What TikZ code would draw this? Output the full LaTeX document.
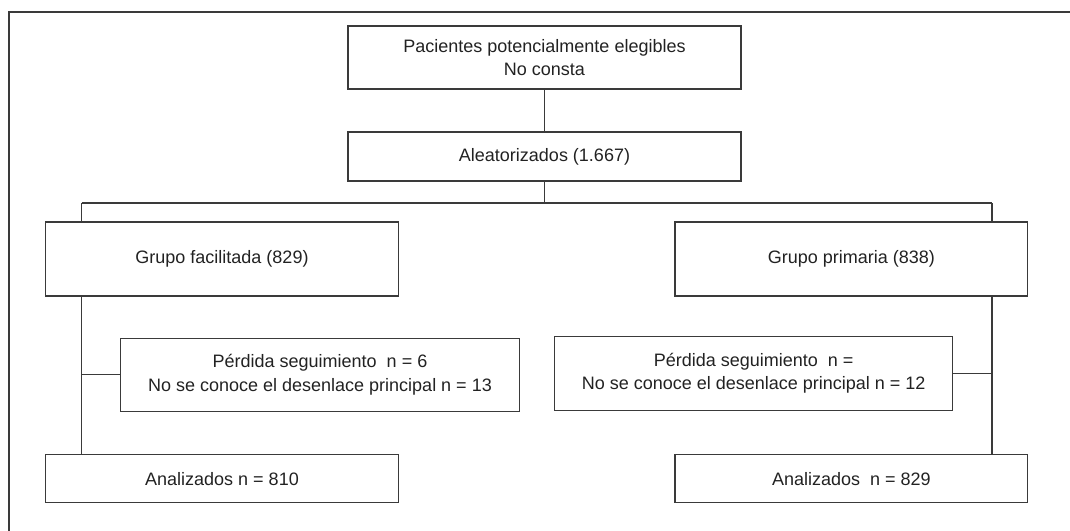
\documentclass[tikz,border=0pt]{standalone}
\usepackage{fontspec}
\setmainfont{Liberation Sans}
\definecolor{linegray}{HTML}{3A3A3A}
\definecolor{textgray}{HTML}{222222}
\begin{document}
\begin{tikzpicture}[x=0.75pt,y=-0.75pt,
  box/.style={draw=linegray,line width=0.9pt,align=center,inner sep=0pt,
    text=textgray,font=\fontsize{13.5}{17.5}\selectfont},
  conn/.style={draw=linegray,line width=0.9pt}]
\useasboundingbox (0,0) rectangle (1070,531);
\draw[conn] (1070,12) -- (9,12) -- (9,531);
\node[box,minimum width=294.75pt,minimum height=47.25pt] (elig) at (544.5,57.5) {Pacientes potencialmente elegibles\\No consta};
\node[box,minimum width=294.75pt,minimum height=36.75pt] (alea) at (544.5,156.5) {Aleatorizados (1.667)};
\node[box,minimum width=264.5pt,minimum height=55.5pt] (fac) at (222,259) {Grupo facilitada (829)};
\node[box,minimum width=264.5pt,minimum height=55.5pt] (pri) at (851.3,259) {Grupo primaria (838)};
\node[box,minimum width=298.7pt,minimum height=54.75pt] (perl) at (320,374.8) {P\'erdida seguimiento~ n = 6\\No se conoce el desenlace principal n = 13};
\node[box,minimum width=298.5pt,minimum height=55pt] (perr) at (753.7,373.5) {P\'erdida seguimiento~ n =\\No se conoce el desenlace principal n = 12};
\node[box,minimum width=264.5pt,minimum height=36pt] (anl) at (222,478.7) {Analizados n = 810};
\node[box,minimum width=264.5pt,minimum height=36pt] (anr) at (851.3,478.7) {Analizados~ n = 829};
\coordinate (L) at (81.7,203);
\coordinate (R) at (992,203);
\draw[conn] (elig.south) -- (alea.north);
\draw[conn] (alea.south) -- (alea.south |- L);
\draw[conn] (L) -- (R);
\draw[conn] (L) -- (L |- fac.north);
\draw[conn] (R) -- (R |- pri.north);
\draw[conn] (L |- fac.south) -- (L |- anl.north);
\draw[conn] (L |- perl.west) -- (perl.west);
\draw[conn] (R |- pri.south) -- (R |- anr.north);
\draw[conn] (perr.east) -- (R |- perr.east);
\end{tikzpicture}
\end{document}
